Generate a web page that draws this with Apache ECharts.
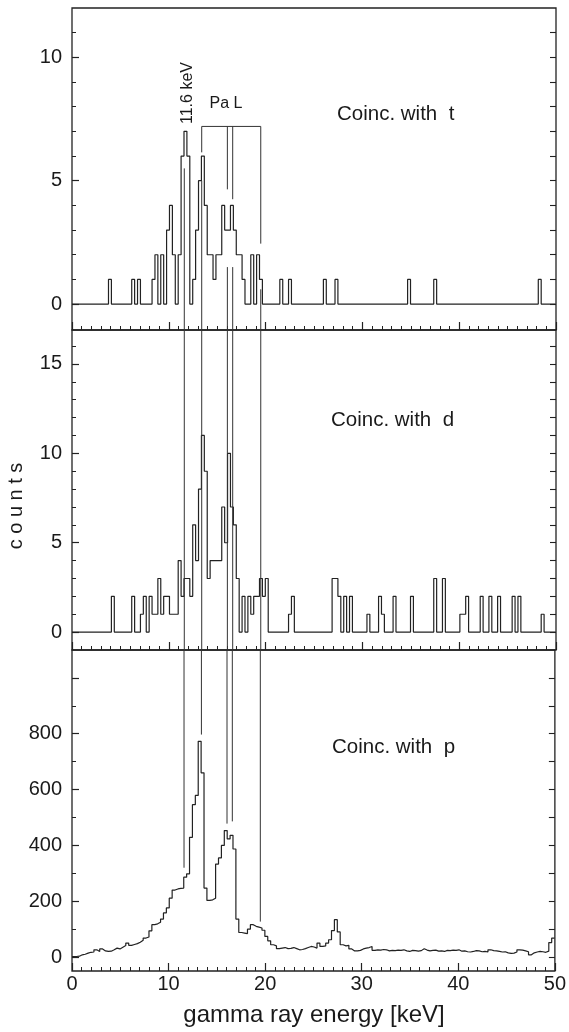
<!DOCTYPE html>
<html><head><meta charset="utf-8">
<script src="https://cdn.jsdelivr.net/npm/echarts@6/dist/echarts.min.js"></script>
<style>html,body{margin:0;padding:0;background:#fff}#c{width:569px;height:1032px}</style>
</head><body><div id="c"></div>
<script>
// ---- histogram binning (keV) ----
const BIN_START = 0.17;
const BIN_WIDTH = 0.3;
const E_MIN = 0, E_MAX = 50;

// ---- counts per bin (bin k covers BIN_START + k*BIN_WIDTH ... +BIN_WIDTH) ----
const countsT = [
  0,0,0,0,0,0,0,0,0,0,
  0,0,1,0,0,0,0,0,0,0,
  1,0,1,0,0,0,0,1,2,0,
  2,0,3,4,2,0,2,6,7,6,
  0,1,3,5,6,4,2,2,1,2,
  2,4,3,3,4,3,2,2,1,0,
  0,2,0,2,1,0,0,0,0,0,
  0,1,0,0,1,0,0,0,0,0,
  0,0,0,0,0,0,1,0,0,0,
  1,0,0,0,0,0,0,0,0,0,
  0,0,0,0,0,0,0,0,0,0,
  0,0,0,0,0,1,0,0,0,0,
  0,0,0,0,1,0,0,0,0,0,
  0,0,0,0,0,0,0,0,0,0,
  0,0,0,0,0,0,0,0,0,0,
  0,0,0,0,0,0,0,0,0,0,
  1,0,0,0,0,0,0
];
const countsD = [
  0,0,0,0,0,0,0,0,0,0,
  0,0,0,2,0,0,0,0,0,0,
  2,0,0,1,2,0,2,1,1,3,
  1,2,2,1,1,1,4,2,3,3,
  2,6,4,8,11,9,3,4,4,4,
  4,7,5,10,7,6,3,0,2,0,
  2,1,2,2,3,2,3,0,0,0,
  0,0,0,0,1,2,0,0,0,0,
  0,0,0,0,0,0,0,0,0,3,
  3,2,0,2,0,2,0,0,0,0,
  0,1,0,0,0,2,1,0,0,0,
  2,0,0,0,0,0,2,0,0,0,
  0,0,0,0,3,0,0,3,0,0,
  0,0,0,1,1,2,0,0,0,0,
  2,0,0,2,0,0,2,0,0,0,
  0,2,0,2,0,0,0,0,0,0,
  0,1,0,0,0,0,0
];
const countsP = [
  2,3,8,10,14,17,18,26,20,29,
  22,20,21,26,32,29,35,41,50,42,
  45,48,53,60,68,72,94,116,119,125,
  136,158,176,211,240,244,246,247,286,298,
  429,546,579,773,660,247,203,205,211,333,
  355,400,453,423,436,387,136,88,86,84,
  100,116,110,107,104,96,74,58,44,40,
  30,32,34,30,31,34,30,26,27,30,
  34,38,36,32,50,38,40,50,62,95,
  134,90,44,40,42,29,22,22,24,29,
  32,34,38,24,26,25,27,26,22,24,
  23,25,24,26,22,20,24,23,21,23,
  30,25,22,24,25,21,22,20,24,23,
  25,24,26,21,22,19,18,20,23,22,
  19,20,18,26,23,22,20,18,19,15,
  13,14,18,26,25,22,19,8,15,18,
  20,19,17,21,52,68,68
];

// ---- axis ticks ----
const xTickLabels = [0, 10, 20, 30, 40, 50];
const yMajorT = [0, 5, 10],        yMinorT = [1,2,3,4,6,7,8,9,11];
const yMajorD = [0, 5, 10, 15],    yMinorD = [1,2,3,4,6,7,8,9,11,12,13,14,16];
const yMajorP = [0,200,400,600,800,1000], yMinorP = [100,300,500,700,900];
const yLabelsP = [0,200,400,600,800];

// ---- marker lines (keV) ----
const markerEnergy   = [11.6, 13.4, 16.05, 16.6, 19.5];
const bracketLevel   = 7.2;                       // counts, top panel
const bracketTickEnd = [null, 6.15, 4.65, 4.25, 2.45];
const topLowerStart  = [5.5, 5.0, 1.5, 1.5, 0.6];
const bottomLowerEnd = [320, 797, 478, 486, 127];

const panelLabels = ['Coinc. with  t', 'Coinc. with  d', 'Coinc. with  p'];

const FONT = 'Liberation Sans, Arial, Helvetica, sans-serif';
const INK = '#222';

const yRange = [[-1.05, 12.0], [-1.0, 16.9], [-50, 1100]];
const gridBoxes = [
  {left: 72, width: 484, top: 8,   height: 322},
  {left: 72, width: 484, top: 330, height: 320},
  {left: 72, width: 484, top: 650, height: 321}
];

function steps(counts) {
  const pts = [[E_MIN, counts[0]]];
  for (let k = 0; k < counts.length; k++) {
    const a = BIN_START + k * BIN_WIDTH;
    const b = Math.min(a + BIN_WIDTH, E_MAX);
    pts.push([a, counts[k]], [b, counts[k]]);
  }
  return pts;
}

const grid = gridBoxes.map(g => Object.assign({show: true, borderColor: INK, borderWidth: 1.3, backgroundColor: 'transparent'}, g));

const xAxis = [0,1,2].map(i => ({
  gridIndex: i, type: 'value', position: 'bottom', min: E_MIN, max: E_MAX, interval: 10,
  axisLine: {show: false, onZero: false}, splitLine: {show: false},
  axisTick: {show: true, inside: true, length: 8, lineStyle: {color: INK, width: 1.2}},
  minorTick: {show: true, splitNumber: 10, length: 4, lineStyle: {color: INK, width: 1}},
  axisLabel: {show: i === 2, margin: 3, fontSize: 20, color: '#1a1a1a', fontFamily: FONT,
              customValues: xTickLabels}
}));

const majors = [yMajorT, yMajorD, yMajorP];
const minors = [yMinorT, yMinorD, yMinorP];
const labels = [yMajorT, yMajorD, yLabelsP];
const yAxis = [];
[0,1,2].forEach(i => {
  const base = {gridIndex: i, type: 'value', min: yRange[i][0], max: yRange[i][1],
    axisLine: {show: false, onZero: false}, splitLine: {show: false}, minorTick: {show: false}};
  // left majors + labels
  yAxis.push(Object.assign({}, base, {position: 'left',
    axisTick: {show: true, inside: true, length: 7, customValues: majors[i], lineStyle: {color: INK, width: 1.2}},
    axisLabel: {show: true, margin: 10, fontSize: 20, color: '#1a1a1a', fontFamily: FONT, customValues: labels[i]}}));
  // left minors
  yAxis.push(Object.assign({}, base, {position: 'left',
    axisTick: {show: true, inside: true, length: 4, customValues: minors[i], lineStyle: {color: INK, width: 1}},
    axisLabel: {show: false}}));
  // right ticks
  yAxis.push(Object.assign({}, base, {position: 'right',
    axisTick: {show: true, inside: true, length: 6, customValues: majors[i].concat(minors[i]), lineStyle: {color: INK, width: 1.1}},
    axisLabel: {show: false}}));
});

const series = [];
const hist = [countsT, countsD, countsP];
hist.forEach((c, i) => {
  series.push({type: 'line', xAxisIndex: i, yAxisIndex: i * 3, data: steps(c),
    showSymbol: false, symbol: 'none', animation: false, silent: true,
    lineStyle: {color: INK, width: 1.2}});
});
function seg(i, pts, w) {
  series.push({type: 'line', xAxisIndex: i, yAxisIndex: i * 3, data: pts, clip: false,
    showSymbol: false, symbol: 'none', animation: false, silent: true,
    lineStyle: {color: '#333', width: w || 1}});
}
// top panel: bracket and ticks, lower segments
seg(0, [[markerEnergy[1], bracketLevel], [markerEnergy[4], bracketLevel]]);
for (let m = 1; m < 5; m++) seg(0, [[markerEnergy[m], bracketLevel], [markerEnergy[m], bracketTickEnd[m]]]);
for (let m = 0; m < 5; m++) seg(0, [[markerEnergy[m], topLowerStart[m]], [markerEnergy[m], yRange[0][0]]]);
// middle panel: full height
for (let m = 0; m < 5; m++) seg(1, [[markerEnergy[m], yRange[1][1]], [markerEnergy[m], yRange[1][0]]]);
// bottom panel
for (let m = 0; m < 5; m++) seg(2, [[markerEnergy[m], yRange[2][1]], [markerEnergy[m], bottomLowerEnd[m]]]);

const txt = (x, y, text, size, extra) => Object.assign({type: 'text', x: x, y: y, silent: true,
  style: {text: text, fontSize: size, fontFamily: FONT, fill: '#1a1a1a', textAlign: 'left', textVerticalAlign: 'middle'}}, extra || {});

const graphic = [
  {type: 'text', x: 188, y: 93, rotation: Math.PI / 2, silent: true,
   style: {text: '11.6 keV', fontSize: 16, fontFamily: FONT, fill: '#1a1a1a', textAlign: 'center', textVerticalAlign: 'middle'}},
  {type: 'text', x: 226, y: 104, silent: true,
   style: {text: 'Pa L', fontSize: 16, fontFamily: FONT, fill: '#1a1a1a', textAlign: 'center', textVerticalAlign: 'middle'}},
  txt(337, 114, panelLabels[0], 20.5),
  txt(331, 420, panelLabels[1], 20.5),
  txt(332, 747, panelLabels[2], 20.5),
  {type: 'text', x: 16, y: 506, rotation: Math.PI / 2, silent: true,
   style: {text: 'c o u n t s', fontSize: 20, fontFamily: FONT, fill: '#1a1a1a', textAlign: 'center', textVerticalAlign: 'middle'}},
  {type: 'text', x: 314, y: 1015, silent: true,
   style: {text: 'gamma ray energy [keV]', fontSize: 24, fontFamily: FONT, fill: '#1a1a1a', textAlign: 'center', textVerticalAlign: 'middle'}}
];

const chart = echarts.init(document.getElementById('c'), null, {renderer: 'canvas'});
chart.setOption({animation: false, backgroundColor: '#fff', grid, xAxis, yAxis, series, graphic});
</script></body></html>
